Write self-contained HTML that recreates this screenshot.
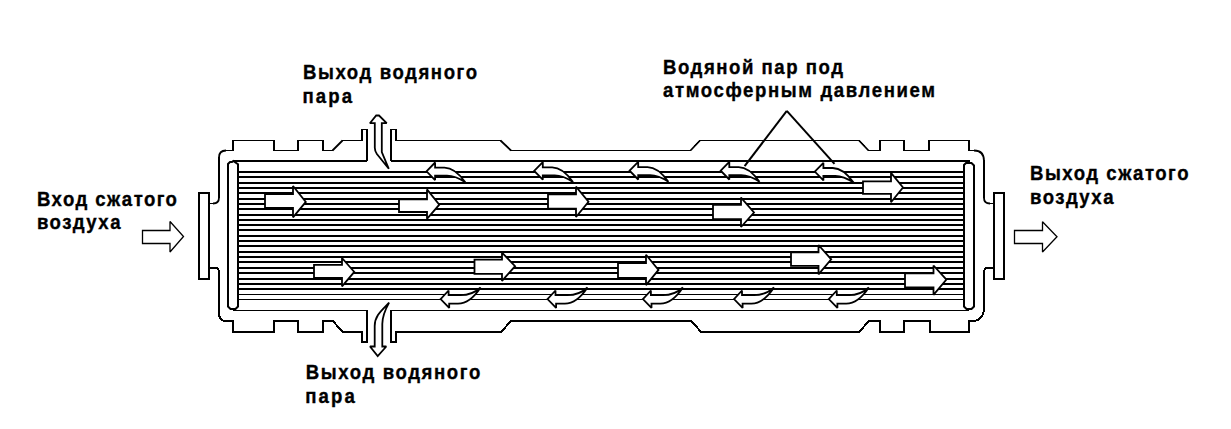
<!DOCTYPE html>
<html><head><meta charset="utf-8">
<style>
html,body{margin:0;padding:0;background:#fff;}
svg{display:block;}
.t{font-family:"Liberation Sans",sans-serif;font-weight:bold;font-size:20px;fill:#000;stroke:#000;stroke-width:0.35px;}
.wa{fill:#fff;stroke:#000;stroke-width:1.8;stroke-linejoin:miter;stroke-miterlimit:2;}
</style></head><body>
<svg width="1231" height="429" viewBox="0 0 1231 429">
<rect width="1231" height="429" fill="#fff"/>
<g class="t">
<text transform="scale(0.93,1)" x="325.81" y="78.8" textLength="187.10" lengthAdjust="spacing">Выход водяного</text>
<text transform="scale(0.93,1)" x="325.27" y="102.6" textLength="53.23" lengthAdjust="spacing">пара</text>
<text transform="scale(0.93,1)" x="712.90" y="73.6" textLength="193.55" lengthAdjust="spacing">Водяной пар под</text>
<text transform="scale(0.93,1)" x="712.90" y="96.8" textLength="292.47" lengthAdjust="spacing">атмосферным давлением</text>
<text transform="scale(0.93,1)" x="39.78" y="206.2" textLength="150.54" lengthAdjust="spacing">Вход сжатого</text>
<text transform="scale(0.93,1)" x="39.78" y="229.5" textLength="89.78" lengthAdjust="spacing">воздуха</text>
<text transform="scale(0.93,1)" x="1107.53" y="179.8" textLength="170.43" lengthAdjust="spacing">Выход сжатого</text>
<text transform="scale(0.93,1)" x="1107.53" y="203.6" textLength="89.78" lengthAdjust="spacing">воздуха</text>
<text transform="scale(0.93,1)" x="328.82" y="379.3" textLength="187.63" lengthAdjust="spacing">Выход водяного</text>
<text transform="scale(0.93,1)" x="328.28" y="403.1" textLength="53.23" lengthAdjust="spacing">пара</text>
</g>
<g fill="#000" shape-rendering="crispEdges">
<rect x="238" y="171" width="726" height="2"/>
<rect x="238" y="176" width="726" height="2"/>
<rect x="238" y="182" width="726" height="2"/>
<rect x="238" y="187" width="726" height="2"/>
<rect x="238" y="192" width="726" height="2"/>
<rect x="238" y="198" width="726" height="2"/>
<rect x="238" y="203" width="726" height="2"/>
<rect x="238" y="208" width="726" height="2"/>
<rect x="238" y="214" width="726" height="2"/>
<rect x="238" y="219" width="726" height="2"/>
<rect x="238" y="224" width="726" height="2"/>
<rect x="238" y="229" width="726" height="2"/>
<rect x="238" y="235" width="726" height="2"/>
<rect x="238" y="240" width="726" height="2"/>
<rect x="238" y="245" width="726" height="2"/>
<rect x="238" y="251" width="726" height="2"/>
<rect x="238" y="256" width="726" height="2"/>
<rect x="238" y="261" width="726" height="2"/>
<rect x="238" y="267" width="726" height="2"/>
<rect x="238" y="272" width="726" height="2"/>
<rect x="238" y="278" width="726" height="2"/>
<rect x="238" y="283" width="726" height="2"/>
<rect x="238" y="288" width="726" height="2"/>
<rect x="238" y="294.0" width="726" height="1"/>
<rect x="238" y="299.0" width="726" height="1"/>
<rect x="233" y="160" width="134" height="2"/>
<rect x="391" y="160" width="579" height="2"/>
<rect x="233" y="310" width="134" height="1"/>
<rect x="391" y="310" width="578" height="1"/>
</g>
<g stroke="#000" fill="none" stroke-width="2">
<path fill="#fff" d="M228,306.5 V164 L230,162 H232 L233.3,161 L238,164.3 V306.5 L235.5,309 H230.5 Z"/>
<path fill="#fff" d="M964,306.5 V165 L966,163 H971.5 L974,165.5 V306.5 L971.5,309 H966.5 Z"/>
</g>
<g stroke="#000" fill="none" shape-rendering="crispEdges">
<path d="M208,203.5 L213,203.5 Q219,203.5 219,197.5 L219,157.5 Q219,150.5 226,150.5 L233,150.5 L233,140.5 L274,140.5 L274,150.5 L298,150.5 L298,140.5 L323,140.5 L323,150.5 L332.5,150.5 L342.5,140.5 L362,140.5 L362,129.5 L367,129.5 L367,161" stroke-width="1.1"/>
<path d="M391,161 L391,129.5 L396,129.5 L396,140.5 L500.5,140.5 L511,150.5 L690.5,150.5 L700,140.5 L859,140.5 L868.5,150.5 L880,150.5 L880,140.5 L904,140.5 L904,150.5 L929,150.5 L929,140.5 L969,140.5 L969,150.5 L974,150.5 Q984,150.5 984,161 L984,198 Q984,203.5 990,203.5 L994,203.5" stroke-width="1.1"/>
<path d="M208,267.5 L214,267.5 Q219,267.5 219,272.5 L219,313 Q219,321 226,321 L233,321 L233,332 L274,332 L274,321 L298,321 L298,332 L323,332 L323,321 L333,321 L342.5,332 L362,332 L362,342 L367,342 L367,310" stroke-width="2"/>
<path d="M391,310 L391,342 L396,342 L396,332 L501,332 L511,321 L691.5,321 L701,332 L859,332 L869,321 L880,321 L880,332 L904,332 L904,321 L929.5,321 L929.5,332 L969,332 L969,321 L972,321 Q984,321 984,307 L984,272.5 Q984,267.5 989,267.5 L994,267.5" stroke-width="2"/>
<g stroke-width="2"><path d="M213,203.5 Q219,203.5 219,197.5" shape-rendering="auto" stroke-width="1.8"/>
<line x1="219" y1="157.5" x2="219" y2="197.5"/>
<path d="M219,157.5 Q219,150.5 226,150.5" shape-rendering="auto" stroke-width="1.8"/>
<line x1="233" y1="140.5" x2="233" y2="150.5"/>
<line x1="274" y1="140.5" x2="274" y2="150.5"/>
<line x1="298" y1="140.5" x2="298" y2="150.5"/>
<line x1="323" y1="140.5" x2="323" y2="150.5"/>
<line x1="332.5" y1="150.5" x2="342.5" y2="140.5" shape-rendering="auto" stroke-width="1.8"/>
<line x1="362" y1="129.5" x2="362" y2="140.5"/>
<line x1="367" y1="129.5" x2="367" y2="161"/>
<line x1="391" y1="129.5" x2="391" y2="161"/>
<line x1="396" y1="129.5" x2="396" y2="140.5"/>
<line x1="500.5" y1="140.5" x2="511" y2="150.5" shape-rendering="auto" stroke-width="1.8"/>
<line x1="690.5" y1="150.5" x2="700" y2="140.5" shape-rendering="auto" stroke-width="1.8"/>
<line x1="859" y1="140.5" x2="868.5" y2="150.5" shape-rendering="auto" stroke-width="1.8"/>
<line x1="880" y1="140.5" x2="880" y2="150.5"/>
<line x1="904" y1="140.5" x2="904" y2="150.5"/>
<line x1="929" y1="140.5" x2="929" y2="150.5"/>
<line x1="969" y1="140.5" x2="969" y2="150.5"/>
<path d="M974,150.5 Q984,150.5 984,161" shape-rendering="auto" stroke-width="1.8"/>
<line x1="984" y1="161" x2="984" y2="198"/>
<path d="M984,198 Q984,203.5 990,203.5" shape-rendering="auto" stroke-width="1.8"/></g>
</g>
<g stroke="#000" fill="#fff" shape-rendering="crispEdges">
<path d="M199,279 V193 H209 V279 Z" stroke-width="1.6"/>
<line x1="199" y1="193" x2="199" y2="279" stroke-width="2"/>
<line x1="209" y1="193" x2="209" y2="279" stroke-width="2"/>
<path d="M994,279 V193 H1004 V279 Z" stroke-width="1.6"/>
<line x1="994" y1="193" x2="994" y2="279" stroke-width="2"/>
<line x1="1004" y1="193" x2="1004" y2="279" stroke-width="2"/>
</g>
<g stroke="#000" stroke-width="2" fill="none">
<line x1="786.8" y1="110.8" x2="744.6" y2="166.2"/>
<line x1="786.8" y1="110.8" x2="834.5" y2="163.8"/>
</g>
<g>
<path class="wa" d="M265,194 H293 V186 L305.8,201.9 L293,217.3 V208 H265 Z"/>
<path class="wa" d="M399,199.4 H427 V189.4 L439.3,204.7 L427,218.8 V212 H399 Z"/>
<path class="wa" d="M548,194.4 H576 V186.7 L588.5,201.7 L576,217 V208.6 H548 Z"/>
<path class="wa" d="M713,204.9 H741 V197.6 L754,212.5 L741,227 V219.1 H713 Z"/>
<path class="wa" d="M863,181.3 H891 V172.9 L903,187.5 L891,202.2 V193.8 H863 Z"/>
<path class="wa" d="M314,264.8 H342 V258 L354.3,271.9 L342,286.3 V277.9 H314 Z"/>
<path class="wa" d="M474.5,259.7 H502 V252.6 L515.1,266.2 L502,280.9 V273.8 H474.5 Z"/>
<path class="wa" d="M618,263.1 H646 V254.7 L658.5,269.9 L646,285.1 V277.8 H618 Z"/>
<path class="wa" d="M791,252.3 H818.5 V245 L831.2,259.3 L818.5,274.3 V265.9 H791 Z"/>
<path class="wa" d="M905,273.3 H933.5 V265.5 L946.4,279.6 L933.5,294.8 V287.5 H905 Z"/>
<path class="wa" transform="translate(426.5,171.3)" d="M0,0 L8.6,-8.8 V-3.6 H18 C25,-3.6 32,1.5 38.8,11 C33,7.2 27,4.4 20.5,4.4 H8.6 V8.8 Z"/>
<path class="wa" transform="translate(534.2,170.9)" d="M0,0 L8.6,-8.8 V-3.6 H18 C25,-3.6 32,1.5 38.8,11 C33,7.2 27,4.4 20.5,4.4 H8.6 V8.8 Z"/>
<path class="wa" transform="translate(629.6,170.7)" d="M0,0 L8.6,-8.8 V-3.6 H18 C25,-3.6 32,1.5 38.8,11 C33,7.2 27,4.4 20.5,4.4 H8.6 V8.8 Z"/>
<path class="wa" transform="translate(720.7,170.7)" d="M0,0 L8.6,-8.8 V-3.6 H18 C25,-3.6 32,1.5 38.8,11 C33,7.2 27,4.4 20.5,4.4 H8.6 V8.8 Z"/>
<path class="wa" transform="translate(814.8,171.6)" d="M0,0 L8.6,-8.8 V-3.6 H18 C25,-3.6 32,1.5 38.8,11 C33,7.2 27,4.4 20.5,4.4 H8.6 V8.8 Z"/>
<path class="wa" transform="translate(440.6,299.1)" d="M0,0 L8,-8.6 V-3.9 H20 C28,-3.9 35,-7 40,-11.6 C35,-4 27,4.5 17.4,4.5 H8.6 V8.8 Z"/>
<path class="wa" transform="translate(547.5,299.1)" d="M0,0 L8,-8.6 V-3.9 H20 C28,-3.9 35,-7 40,-11.6 C35,-4 27,4.5 17.4,4.5 H8.6 V8.8 Z"/>
<path class="wa" transform="translate(642.9,299.1)" d="M0,0 L8,-8.6 V-3.9 H20 C28,-3.9 35,-7 40,-11.6 C35,-4 27,4.5 17.4,4.5 H8.6 V8.8 Z"/>
<path class="wa" transform="translate(734,299.1)" d="M0,0 L8,-8.6 V-3.9 H20 C28,-3.9 35,-7 40,-11.6 C35,-4 27,4.5 17.4,4.5 H8.6 V8.8 Z"/>
<path class="wa" transform="translate(828.8,299.1)" d="M0,0 L8,-8.6 V-3.9 H20 C28,-3.9 35,-7 40,-11.6 C35,-4 27,4.5 17.4,4.5 H8.6 V8.8 Z"/>
<path class="wa" style="stroke-width:1.3" d="M142.5,230.5 H170 V221.5 L183.5,236.5 L170,252 V243.5 H142.5 Z"/>
<path class="wa" style="stroke-width:1.3" d="M1014.5,230.5 H1042.5 V221.8 L1057,236.8 L1042.5,252 V243.5 H1014.5 Z"/>
<path class="wa" d="M388.8,168.8 L381.8,152 V123.2 H386.7 L379,115.5 H376.2 L369.9,123.2 H374.8 V147.8 Q374.8,151 376.9,154 Z"/>
<path class="wa" d="M389.1,302.6 C381,311 374.7,316 374.7,326 V346.5 H370 L377.7,356 L386.3,346.5 H382.3 V324 C382.3,316 385,310 389.1,302.6 Z"/>
</g>
</svg>
</body></html>
